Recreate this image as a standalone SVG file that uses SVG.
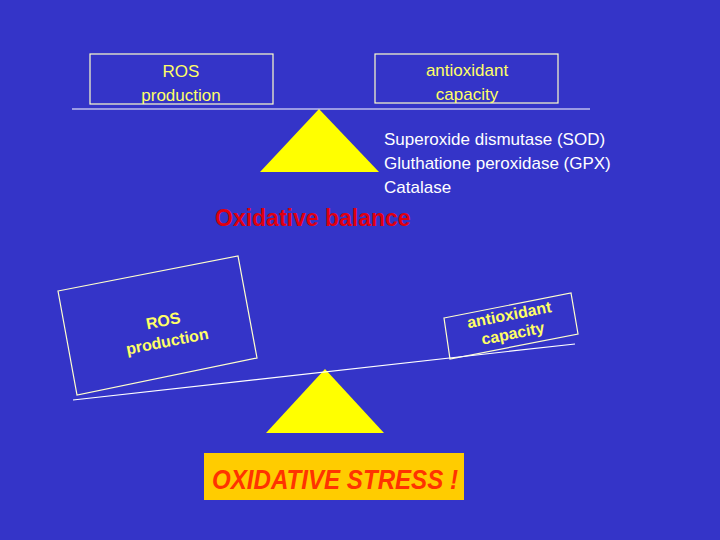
<svg xmlns="http://www.w3.org/2000/svg" width="720" height="540" viewBox="0 0 720 540">
<style>
.box{fill:none;stroke:#ffffcc;stroke-width:1.2}
.lbl{font-family:"Liberation Sans",Arial,sans-serif;font-size:17px;fill:#ffff66;text-anchor:middle}
.lb2{font-family:"Liberation Sans",Arial,sans-serif;font-size:16px;font-weight:bold;fill:#ffff66;text-anchor:middle}
.enz{font-family:"Liberation Sans",Arial,sans-serif;font-size:17px;fill:#ffffff}
.beam{stroke:#ffffff;stroke-width:1.2;fill:none}
.tri{fill:#ffff00}
</style>
<rect width="720" height="540" fill="#3434c8"/>
<g id="balance-top">
<g id="ros-top"><rect class="box" x="90" y="54" width="183" height="50"/><text class="lbl" x="181" y="77">ROS</text><text class="lbl" x="181" y="101">production</text></g>
<g id="antiox-top"><rect class="box" x="375" y="54" width="183" height="49"/><text class="lbl" x="467" y="76">antioxidant</text><text class="lbl" x="467" y="100">capacity</text></g>
<g id="fulcrum-top"><polygon class="tri" points="319,109 260,172 379,172"/></g>
</g>
<g id="enzymes"><text class="enz" x="384" y="145">Superoxide dismutase (SOD)</text><text class="enz" x="384" y="169">Gluthatione peroxidase (GPX)</text><text class="enz" x="384" y="193">Catalase</text></g>
<g id="title-balance"><text x="215" y="226" font-family="Liberation Sans,Arial,sans-serif" font-size="23" font-weight="bold" fill="#e00010">Oxidative balance</text></g>
<g id="ros-bottom"><polygon class="box" points="58,291 238,256 257,358 77,395"/><g transform="rotate(-11 165 330)"><text class="lb2" x="165" y="326">ROS</text><text class="lb2" x="165" y="347">production</text></g></g>
<g id="antiox-bottom"><polygon class="box" points="444,318 571,293 578,334 450,359"/><g transform="rotate(-11 511 324)"><text class="lb2" x="511" y="320">antioxidant</text><text class="lb2" x="511" y="339">capacity</text></g></g>
<g id="fulcrum-bottom"><polygon class="tri" points="325,369 266,433 384,433"/></g>
<g id="connectors"><line class="beam" x1="72" y1="109" x2="590" y2="109"/><line class="beam" x1="73" y1="400" x2="575" y2="344"/></g>
<g id="stress"><rect x="204" y="453" width="260" height="47" fill="#ffcc00"/><text x="212" y="489" font-family="Liberation Sans,Arial,sans-serif" font-size="27" font-weight="bold" font-style="italic" fill="#ff3300" textLength="246" lengthAdjust="spacingAndGlyphs">OXIDATIVE STRESS !</text></g>
</svg>
